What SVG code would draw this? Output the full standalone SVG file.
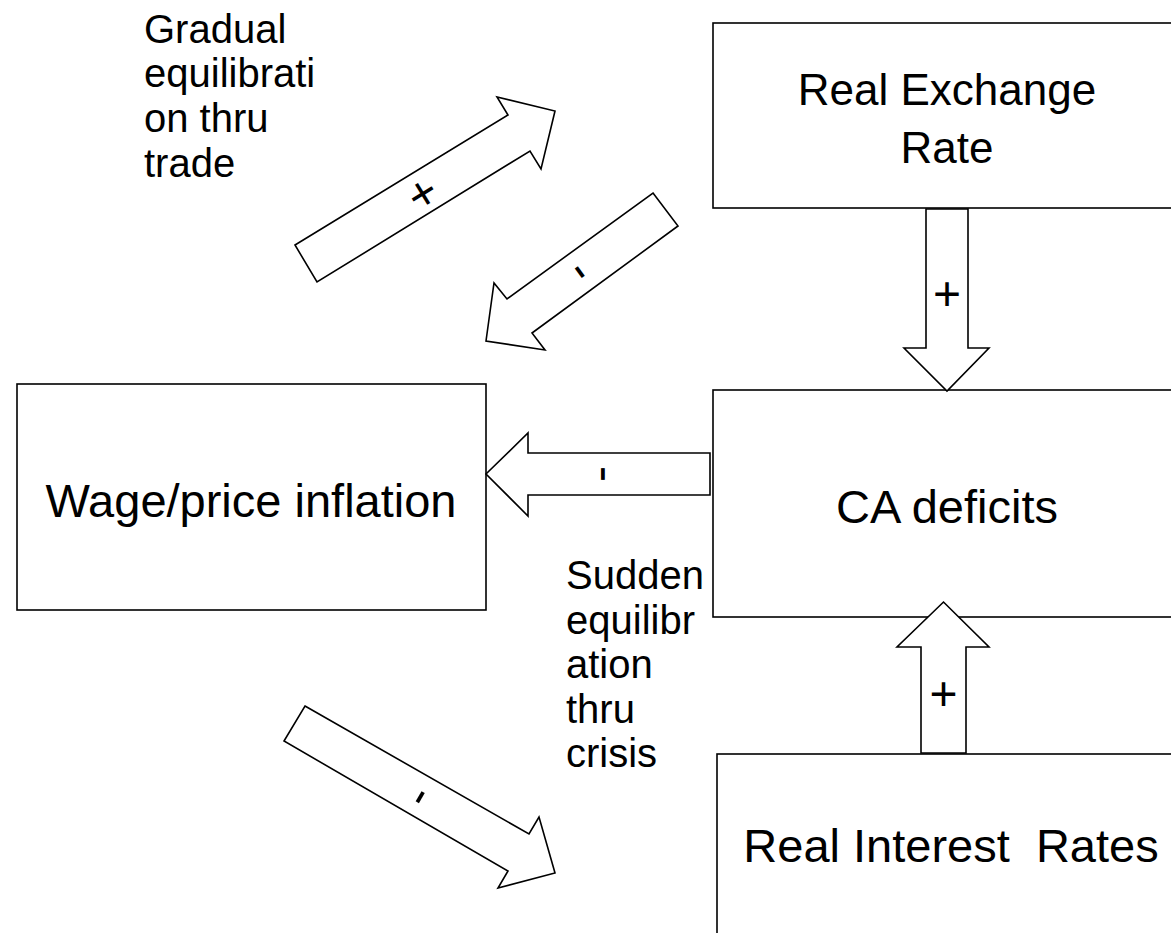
<svg xmlns="http://www.w3.org/2000/svg" width="1171" height="933" viewBox="0 0 1171 933">
<style>
.box{fill:#fff;stroke:#000;stroke-width:1.6}
.arr{fill:#fff;stroke:#000;stroke-width:1.6;stroke-linejoin:miter}
text{font-family:"Liberation Sans",Arial,sans-serif;fill:#000}
.big{font-size:47px;text-anchor:middle;white-space:pre}
.lbl{font-size:40px}
.sign{font-size:48px;text-anchor:middle}
</style>
<rect width="1171" height="933" fill="#fff"/>
<g id="rer">
<rect class="box" x="713" y="23" width="480" height="185"/>
<text class="big" x="947" y="105" style="font-size:44px">Real Exchange</text>
<text class="big" x="947" y="163" style="font-size:44px">Rate</text>
</g>
<g id="wage">
<rect class="box" x="17" y="384" width="469" height="226"/>
<text class="big" x="251" y="517">Wage/price inflation</text>
</g>
<g id="ca">
<rect class="box" x="713" y="390" width="480" height="227"/>
<text class="big" x="947" y="523">CA deficits</text>
</g>
<g id="rir">
<rect class="box" x="717" y="754" width="480" height="200"/>
<text class="big" x="951" y="862" xml:space="preserve">Real Interest  Rates</text>
</g>
<g id="connectors">
<polygon class="arr" points="295,245 508,115 497,97 555,111 541,169 530,151 317,282"/>
<text class="sign" transform="translate(422,193) rotate(-31.5)" y="17">+</text>
<polygon class="arr" points="653,193 678,226 532,333 545,350 486,341 494,283 507,299"/>
<text class="sign" transform="translate(580,272) rotate(53.8)" y="13">-</text>
<polygon class="arr" points="710,453 528,453 528,433 486,474 528,516 528,495 710,495"/>
<text class="sign" transform="translate(603,474) rotate(90)" y="13">-</text>
<polygon class="arr" points="926,209 968,209 968,348 989,348 947,391 904,348 926,348"/>
<text class="sign" x="947" y="310">+</text>
<polygon class="arr" points="921,753 966,753 966,647 989,647 943.5,602 897,647 921,647"/>
<text class="sign" x="943.5" y="710">+</text>
<polygon class="arr" points="305,706 529,834 539,817 555,873 498,888 508,871 284,741"/>
<text class="sign" transform="translate(420,797) rotate(-60)" y="13">-</text>
</g>
<g id="label-gradual">
<text class="lbl" x="144" y="43">Gradual</text>
<text class="lbl" x="144" y="87">equilibrati</text>
<text class="lbl" x="144" y="132">on thru</text>
<text class="lbl" x="144" y="177">trade</text>
</g>
<g id="label-sudden">
<text class="lbl" x="566" y="589">Sudden</text>
<text class="lbl" x="566" y="634">equilibr</text>
<text class="lbl" x="566" y="678">ation</text>
<text class="lbl" x="566" y="723">thru</text>
<text class="lbl" x="566" y="767">crisis</text>
</g>
</svg>
